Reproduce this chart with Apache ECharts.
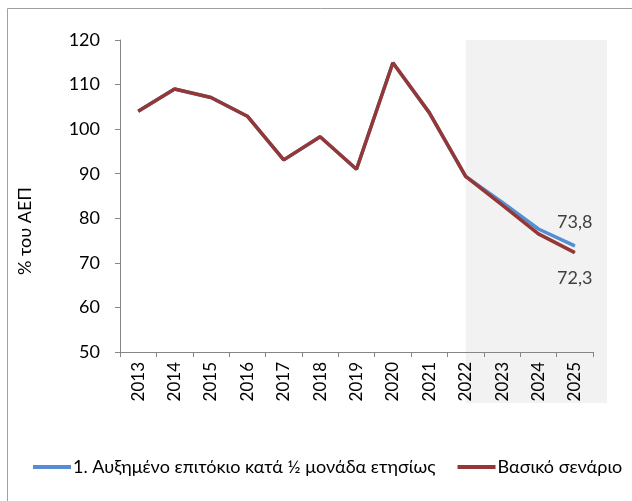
<!DOCTYPE html>
<html>
<head>
<meta charset="utf-8">
<script src="https://cdn.jsdelivr.net/npm/echarts@6/dist/echarts.min.js"></script>
<style>
  html, body { margin: 0; padding: 0; background: #fff; }
  #chart { width: 632px; height: 501px; }
</style>
</head>
<body>
<div id="chart"></div>
<script>
// Χρέος ως % του ΑΕΠ

const years = ['2013', '2014', '2015', '2016', '2017', '2018', '2019', '2020', '2021', '2022', '2023', '2024', '2025'];
const higherRate = [104.0, 109.0, 107.1, 102.9, 93.1, 98.3, 91.0, 114.9, 103.7, 89.4, 83.6, 77.6, 73.8];
const baseline = [104.0, 109.0, 107.1, 102.9, 93.1, 98.3, 91.0, 114.9, 103.7, 89.4, 83.0, 76.5, 72.3];
const seriesNames = ['1. Αυξημένο επιτόκιο κατά ½ μονάδα ετησίως', 'Βασικό σενάριο'];
const forecastStart = '2022';

const FONT = 'Lato, "Open Sans", sans-serif';

const chart = echarts.init(document.getElementById('chart'));

// ετικέτα μόνο στο τελευταίο σημείο
function lastLabel(values, position, distance) {
    return values.map((v, i) => i === values.length - 1
        ? { value: v, symbol: 'circle', symbolSize: 1,
            label: { show: true, position: position, distance: distance,
            formatter: p => p.value.toFixed(1).replace('.', ','),
            fontFamily: FONT, fontSize: 18, color: '#404040' } }
        : v);
}

const option = {
    animation: false,
    grid: { left: 120, right: 39, top: 40, bottom: 149 },
    xAxis: {
        type: 'category',
        data: years,
        boundaryGap: true,
        axisLine: { lineStyle: { color: '#868686', width: 1 } },
        axisTick: { show: true, length: 5, interval: 0, lineStyle: { color: '#868686' } },
        axisLabel: { rotate: 90, interval: 0, margin: 10, fontFamily: FONT, fontSize: 17, color: '#000' }
    },
    yAxis: {
        type: 'value',
        min: 50,
        max: 120,
        interval: 10,
        splitLine: { show: false },
        axisLine: { show: true, lineStyle: { color: '#868686', width: 1 } },
        axisTick: { show: true, length: 5, lineStyle: { color: '#868686' } },
        axisLabel: { margin: 20, fontFamily: FONT, fontSize: 18, color: '#000' }
    },
    legend: {
        left: 28,
        top: 453,
        itemGap: 22,
        itemWidth: 38,
        itemHeight: 4,
        icon: 'rect',
        textStyle: { fontFamily: FONT, fontSize: 18, color: '#000', padding: [0, 0, 0, -3] },
        data: seriesNames
    },
    series: [
        {
            name: seriesNames[0],
            type: 'line',
            data: lastLabel(higherRate, 'top', 14),
            symbol: 'none',
            lineStyle: { color: '#558ed5', width: 3.5 },
            itemStyle: { color: '#558ed5' },
            z: 2
        },
        {
            name: seriesNames[1],
            type: 'line',
            data: lastLabel(baseline, 'bottom', 16),
            symbol: 'none',
            lineStyle: { color: '#953735', width: 3.5 },
            itemStyle: { color: '#953735' },
            z: 3
        }
    ]
};

chart.setOption(option);

// σκιασμένη περιοχή πρόβλεψης + πλαίσιο + τίτλος άξονα
const shadeX = chart.convertToPixel({ xAxisIndex: 0 }, forecastStart);
chart.setOption({
    graphic: [
        { type: 'rect', z: -10, silent: true,
          shape: { x: shadeX, y: 40, width: 607 - shadeX, height: 363 },
          style: { fill: '#f2f2f2' } },
        { type: 'rect', z: -20, silent: true,
          shape: { x: 7.5, y: 8.5, width: 700, height: 600 },
          style: { fill: 'none', stroke: '#a0a0a0', lineWidth: 1 } },
        { type: 'text', x: 25, y: 231, rotation: Math.PI / 2,
          style: { text: '% του ΑΕΠ', fontFamily: FONT, fontSize: 18, fill: '#000',
                   align: 'center', verticalAlign: 'middle' } }
    ]
});
</script>
</body>
</html>
